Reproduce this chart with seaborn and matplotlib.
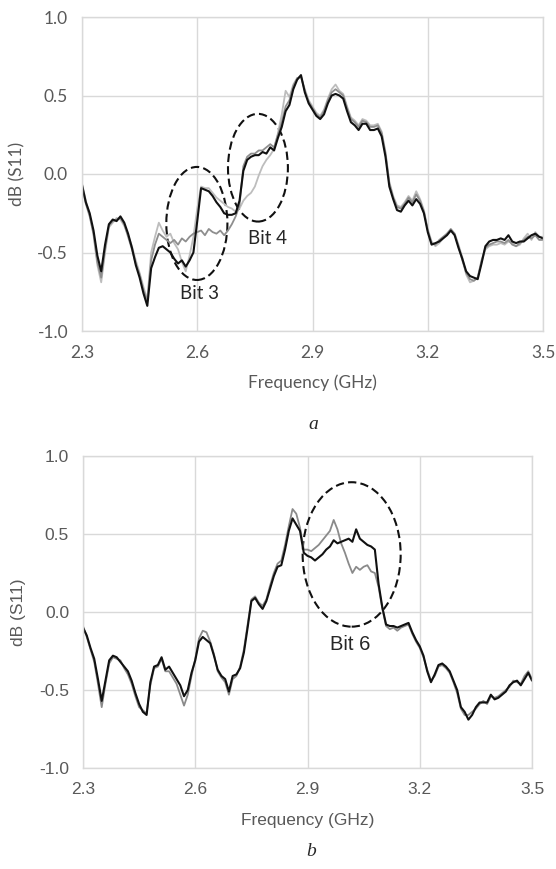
import numpy as np
import pandas as pd
import seaborn as sns
import matplotlib.pyplot as plt
from matplotlib.patches import Ellipse

# frequency grid (GHz), 0.01 step
freq = np.round(np.linspace(2.3, 3.5, 121), 2)

# panel a: black = both bits on, gray = bit 3 off, light gray = bit 4 off
a_black = [
    -0.07, -0.18, -0.25, -0.36, -0.52, -0.62, -0.45, -0.32, -0.29, -0.30,
    -0.27, -0.31, -0.38, -0.47, -0.58, -0.66, -0.76, -0.84, -0.60, -0.53,
    -0.47, -0.46, -0.48, -0.50, -0.54, -0.57, -0.55, -0.59, -0.55, -0.50,
    -0.30, -0.09, -0.10, -0.11, -0.14, -0.18, -0.21, -0.25, -0.26, -0.26,
    -0.25, -0.17, 0.02, 0.09, 0.11, 0.12, 0.12, 0.14, 0.13, 0.17,
    0.15, 0.23, 0.30, 0.40, 0.44, 0.54, 0.60, 0.63, 0.52, 0.45,
    0.41, 0.37, 0.35, 0.38, 0.45, 0.50, 0.51, 0.50, 0.48, 0.40,
    0.33, 0.31, 0.28, 0.32, 0.32, 0.28, 0.28, 0.29, 0.24, 0.11,
    -0.08, -0.16, -0.23, -0.24, -0.20, -0.17, -0.20, -0.16, -0.19, -0.25,
    -0.37, -0.45, -0.44, -0.43, -0.41, -0.39, -0.36, -0.39, -0.47, -0.54,
    -0.62, -0.65, -0.66, -0.67, -0.57, -0.46, -0.43, -0.42, -0.42, -0.41,
    -0.42, -0.39, -0.43, -0.44, -0.43, -0.43, -0.41, -0.39, -0.38, -0.40,
    -0.41,
]
a_gray = [
    -0.08, -0.19, -0.27, -0.38, -0.56, -0.66, -0.48, -0.33, -0.30, -0.29,
    -0.28, -0.32, -0.40, -0.48, -0.57, -0.64, -0.74, -0.81, -0.55, -0.45,
    -0.38, -0.40, -0.42, -0.44, -0.42, -0.45, -0.41, -0.43, -0.40, -0.38,
    -0.37, -0.36, -0.39, -0.35, -0.37, -0.38, -0.36, -0.39, -0.36, -0.32,
    -0.27, -0.20, 0.05, 0.11, 0.13, 0.13, 0.15, 0.15, 0.17, 0.19,
    0.17, 0.25, 0.33, 0.43, 0.47, 0.56, 0.61, 0.62, 0.53, 0.46,
    0.42, 0.38, 0.36, 0.40, 0.47, 0.52, 0.54, 0.52, 0.50, 0.42,
    0.35, 0.33, 0.30, 0.34, 0.33, 0.30, 0.30, 0.31, 0.26, 0.13,
    -0.06, -0.15, -0.21, -0.22, -0.19, -0.15, -0.18, -0.13, -0.17, -0.24,
    -0.36, -0.44, -0.45, -0.42, -0.40, -0.38, -0.35, -0.38, -0.46, -0.55,
    -0.63, -0.67, -0.68, -0.66, -0.55, -0.47, -0.45, -0.44, -0.43, -0.43,
    -0.44, -0.42, -0.45, -0.46, -0.44, -0.42, -0.40, -0.41, -0.39, -0.42,
    -0.42,
]
a_light = [
    -0.06, -0.17, -0.26, -0.39, -0.58, -0.69, -0.50, -0.34, -0.31, -0.28,
    -0.29, -0.33, -0.39, -0.46, -0.55, -0.63, -0.72, -0.80, -0.50, -0.40,
    -0.31, -0.36, -0.40, -0.38, -0.44, -0.48, -0.56, -0.62, -0.52, -0.40,
    -0.22, -0.08, -0.09, -0.09, -0.12, -0.15, -0.17, -0.19, -0.21, -0.22,
    -0.24, -0.22, -0.17, -0.14, -0.12, -0.08, -0.01, 0.05, 0.09, 0.12,
    0.16, 0.26, 0.38, 0.53, 0.49, 0.57, 0.61, 0.62, 0.54, 0.47,
    0.43, 0.39, 0.37, 0.41, 0.48, 0.54, 0.57, 0.53, 0.51, 0.43,
    0.36, 0.34, 0.31, 0.35, 0.34, 0.31, 0.31, 0.32, 0.27, 0.14,
    -0.05, -0.14, -0.20, -0.21, -0.18, -0.14, -0.17, -0.11, -0.16, -0.23,
    -0.35, -0.43, -0.46, -0.44, -0.41, -0.38, -0.36, -0.38, -0.45, -0.53,
    -0.64, -0.69, -0.68, -0.66, -0.56, -0.48, -0.46, -0.45, -0.45, -0.44,
    -0.45, -0.43, -0.44, -0.46, -0.45, -0.41, -0.38, -0.42, -0.37, -0.40,
    -0.40,
]

# panel b: black = bit 6 on, gray = bit 6 off
b_black = [
    -0.10, -0.15, -0.23, -0.30, -0.43, -0.57, -0.44, -0.31, -0.28, -0.29,
    -0.32, -0.35, -0.38, -0.44, -0.52, -0.59, -0.64, -0.66, -0.45, -0.35,
    -0.34, -0.29, -0.37, -0.35, -0.39, -0.43, -0.47, -0.54, -0.50, -0.39,
    -0.31, -0.19, -0.16, -0.18, -0.20, -0.28, -0.37, -0.41, -0.43, -0.51,
    -0.41, -0.40, -0.36, -0.26, -0.10, 0.07, 0.09, 0.05, 0.02, 0.07,
    0.15, 0.23, 0.29, 0.30, 0.40, 0.52, 0.60, 0.56, 0.52, 0.38,
    0.36, 0.35, 0.33, 0.35, 0.37, 0.40, 0.42, 0.46, 0.44, 0.45,
    0.46, 0.47, 0.45, 0.53, 0.47, 0.45, 0.43, 0.42, 0.40, 0.18,
    0.03, -0.08, -0.09, -0.09, -0.10, -0.09, -0.08, -0.07, -0.13, -0.18,
    -0.22, -0.28, -0.38, -0.45, -0.40, -0.34, -0.33, -0.35, -0.38, -0.44,
    -0.50, -0.61, -0.64, -0.69, -0.66, -0.61, -0.58, -0.58, -0.58, -0.53,
    -0.56, -0.55, -0.53, -0.51, -0.47, -0.45, -0.44, -0.47, -0.43, -0.39,
    -0.44,
]
b_gray = [
    -0.09, -0.16, -0.24, -0.32, -0.46, -0.61, -0.46, -0.33, -0.29, -0.30,
    -0.31, -0.36, -0.40, -0.46, -0.54, -0.61, -0.63, -0.65, -0.47, -0.36,
    -0.35, -0.30, -0.38, -0.38, -0.42, -0.46, -0.53, -0.60, -0.53, -0.41,
    -0.30, -0.17, -0.12, -0.13, -0.19, -0.27, -0.38, -0.42, -0.45, -0.53,
    -0.43, -0.41, -0.35, -0.24, -0.08, 0.08, 0.10, 0.06, 0.04, 0.08,
    0.17, 0.25, 0.31, 0.33, 0.43, 0.55, 0.66, 0.63, 0.54, 0.40,
    0.40, 0.39, 0.41, 0.43, 0.46, 0.49, 0.52, 0.59, 0.53, 0.44,
    0.38, 0.31, 0.25, 0.29, 0.27, 0.29, 0.30, 0.26, 0.25, 0.16,
    0.02, -0.09, -0.11, -0.10, -0.12, -0.10, -0.09, -0.08, -0.14, -0.19,
    -0.23, -0.29, -0.37, -0.44, -0.41, -0.35, -0.34, -0.36, -0.39, -0.45,
    -0.52, -0.62, -0.66, -0.66, -0.64, -0.62, -0.59, -0.57, -0.59, -0.54,
    -0.55, -0.54, -0.52, -0.50, -0.48, -0.44, -0.45, -0.46, -0.41, -0.38,
    -0.43,
]

xticks = [2.3, 2.6, 2.9, 3.2, 3.5]
yticks = [-1.0, -0.5, 0.0, 0.5, 1.0]

sns.set_style("white")
plt.rcParams['axes.unicode_minus'] = False

W, H = 556, 869
fig = plt.figure(figsize=(W / 100, H / 100), dpi=100)


def style_axes(ax, font, size, height_px, width_px):
    ax.set_xlim(2.3, 3.5)
    ax.set_ylim(-1.0, 1.0)
    ax.set_xticks(xticks)
    ax.set_yticks(yticks)
    ax.set_xticklabels([f"{t:.1f}" for t in xticks])
    ax.set_yticklabels([f"{t:.1f}" for t in yticks])
    ax.grid(True, color='#d9d9d9', lw=1)
    for sp in ax.spines.values():
        sp.set_color('#d9d9d9')
        sp.set_linewidth(1)
    ax.tick_params(length=0, pad=10, labelsize=size, labelcolor='#595959')
    for lab in ax.get_xticklabels() + ax.get_yticklabels():
        lab.set_family(font)
    ax.set_xlabel('Frequency (GHz)', fontsize=size, color='#595959', family=font)
    ax.set_ylabel('dB (S11)', fontsize=size, color='#595959', family=font)
    ax.xaxis.label.set_va('center')
    ax.yaxis.label.set_va('center')
    ax.xaxis.set_label_coords(0.5, -52 / height_px)
    ax.yaxis.set_label_coords(-65 / width_px, 0.5)


# ---- panel a ----
ax1 = fig.add_axes([82 / W, 1 - 331 / H, 461 / W, 314 / H])
df_a = pd.DataFrame({'freq': freq, 'black': a_black, 'gray': a_gray, 'light': a_light})
sns.lineplot(data=df_a, x='freq', y='light', color='#bdbdbd', lw=1.3, ax=ax1)
sns.lineplot(data=df_a, x='freq', y='gray', color='#8e8e8e', lw=1.3, ax=ax1)
sns.lineplot(data=df_a, x='freq', y='black', color='#111111', lw=1.5, ax=ax1)
style_axes(ax1, 'Lato', 12.5, 314, 461)
ax1.add_patch(Ellipse((2.599, -0.315), 0.159, 0.72, fill=False, ec='#111111',
                      lw=1.5, ls=(0, (4, 2))))
ax1.add_patch(Ellipse((2.758, 0.04), 0.156, 0.686, fill=False, ec='#111111',
                      lw=1.5, ls=(0, (4, 2))))
ax1.text(2.605, -0.76, 'Bit 3', fontsize=13.5, family='Lato', ha='center', va='center')
ax1.text(2.782, -0.41, 'Bit 4', fontsize=13.5, family='Lato', ha='center', va='center')

# ---- panel b ----
ax2 = fig.add_axes([83 / W, 1 - 768 / H, 449 / W, 312 / H])
df_b = pd.DataFrame({'freq': freq, 'black': b_black, 'gray': b_gray})
sns.lineplot(data=df_b, x='freq', y='gray', color='#8a8a8a', lw=1.3, ax=ax2)
sns.lineplot(data=df_b, x='freq', y='black', color='#111111', lw=1.5, ax=ax2)
style_axes(ax2, 'Liberation Sans', 12.5, 312, 449)
ax2.add_patch(Ellipse((3.018, 0.369), 0.262, 0.926, fill=False, ec='#111111',
                      lw=1.5, ls=(0, (4, 2))))
ax2.text(3.014, -0.21, 'Bit 6', fontsize=14.5, family='Liberation Sans',
         ha='center', va='center')

# captions
fig.text(313 / W, 1 - 425 / H, 'a', fontsize=14, style='italic',
         family='Liberation Serif', ha='center', va='center')
fig.text(311 / W, 1 - 852 / H, 'b', fontsize=14, style='italic',
         family='Liberation Serif', ha='center', va='center')

fig.savefig('out.png', dpi=100)
